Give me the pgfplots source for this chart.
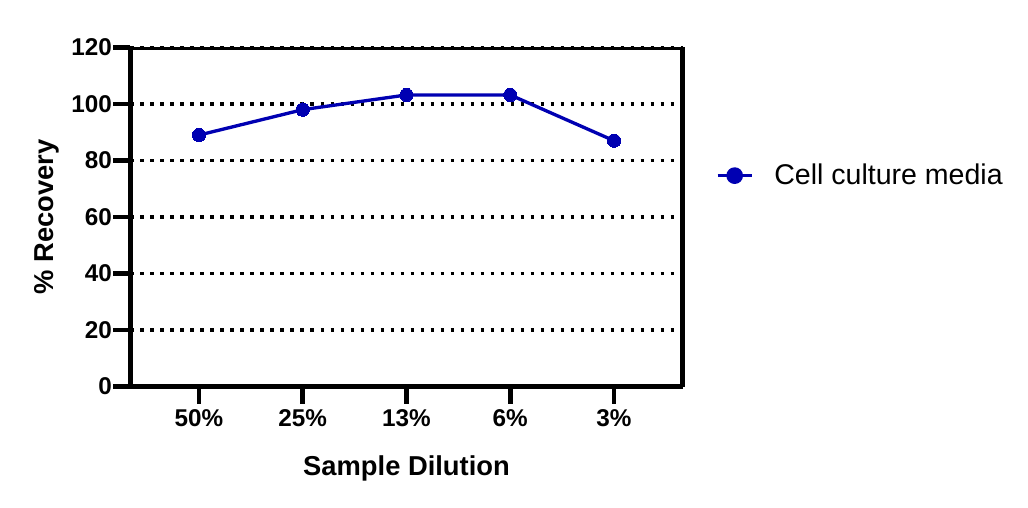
\documentclass[border=0pt]{standalone}
\usepackage{pgfplots}
\pgfplotsset{compat=1.18}
\usepackage{fontspec}
\setmainfont{Liberation Sans}
\definecolor{serblue}{RGB}{0,0,178}
\begin{document}
\begin{tikzpicture}
\path[use as bounding box] (-97.875pt,-90.375pt) rectangle (673.125pt,289.875pt);
\begin{axis}[
  at={(0pt,0pt)}, anchor=south west,
  scale only axis,
  width=414pt, height=254.25pt,
  xmin=-0.66, xmax=4.66,
  ymin=0, ymax=120,
  xtick={0,1,2,3,4},
  xticklabels={50\%,25\%,13\%,6\%,3\%},
  ytick={0,20,40,60,80,100,120},
  axis line style={line width=3.6pt},
  every outer x axis line/.append style={shorten <=-12.75pt},
  tick style={line width=3.6pt, black},
  tick align=outside,
  major tick length=12.75pt,
  xtick pos=bottom, ytick pos=left,
  axis x line*=bottom,
  x axis line style={-},
  separate axis lines,
  /pgf/number format/assume math mode=true,
  ticklabel style={font=\fontsize{18.2}{20}\selectfont\bfseries},
  xticklabel style={yshift=-1pt},
  yticklabel style={inner sep=1pt},
  label style={font=\fontsize{20.5}{23}\selectfont\bfseries},
  xlabel={Sample Dilution},
  ylabel={\% Recovery},
  xlabel style={yshift=-15pt},
  ylabel style={yshift=5pt},
  ymajorgrids,
  grid style={black, line width=2.3pt, dash pattern=on 2.3pt off 5.2pt},
  legend style={draw=none, fill=none, at={(1.053,0.622)}, anchor=west,
    font=\fontsize{21.4}{24}\selectfont, legend cell align=left},
  legend image code/.code={
    \draw[#1, line width=2.5pt] (0pt,0pt) -- (25.5pt,0pt);
    \fill[serblue] (12.75pt,0pt) circle (5pt);
    \path[draw=none, fill=none] (0pt,0pt) rectangle (40.5pt,0.1pt);
  },
]
\addplot[color=serblue, line width=2.5pt, mark=*, mark size=5pt,
  mark options={fill=serblue, draw=serblue, line width=0pt}]
  coordinates {(0,89) (1,98) (2,103.2) (3,103.2) (4,87)};
\addlegendentry{Cell culture media}
\draw[line width=3.6pt] (axis cs:-0.66,120) -- (axis cs:4.66,120);
\draw[line width=3.6pt] (axis cs:4.66,0) -- (axis cs:4.66,120);
\draw[line width=3.6pt] (axis cs:-0.66,0) -- (axis cs:-0.66,120);
\end{axis}
\end{tikzpicture}
\end{document}
